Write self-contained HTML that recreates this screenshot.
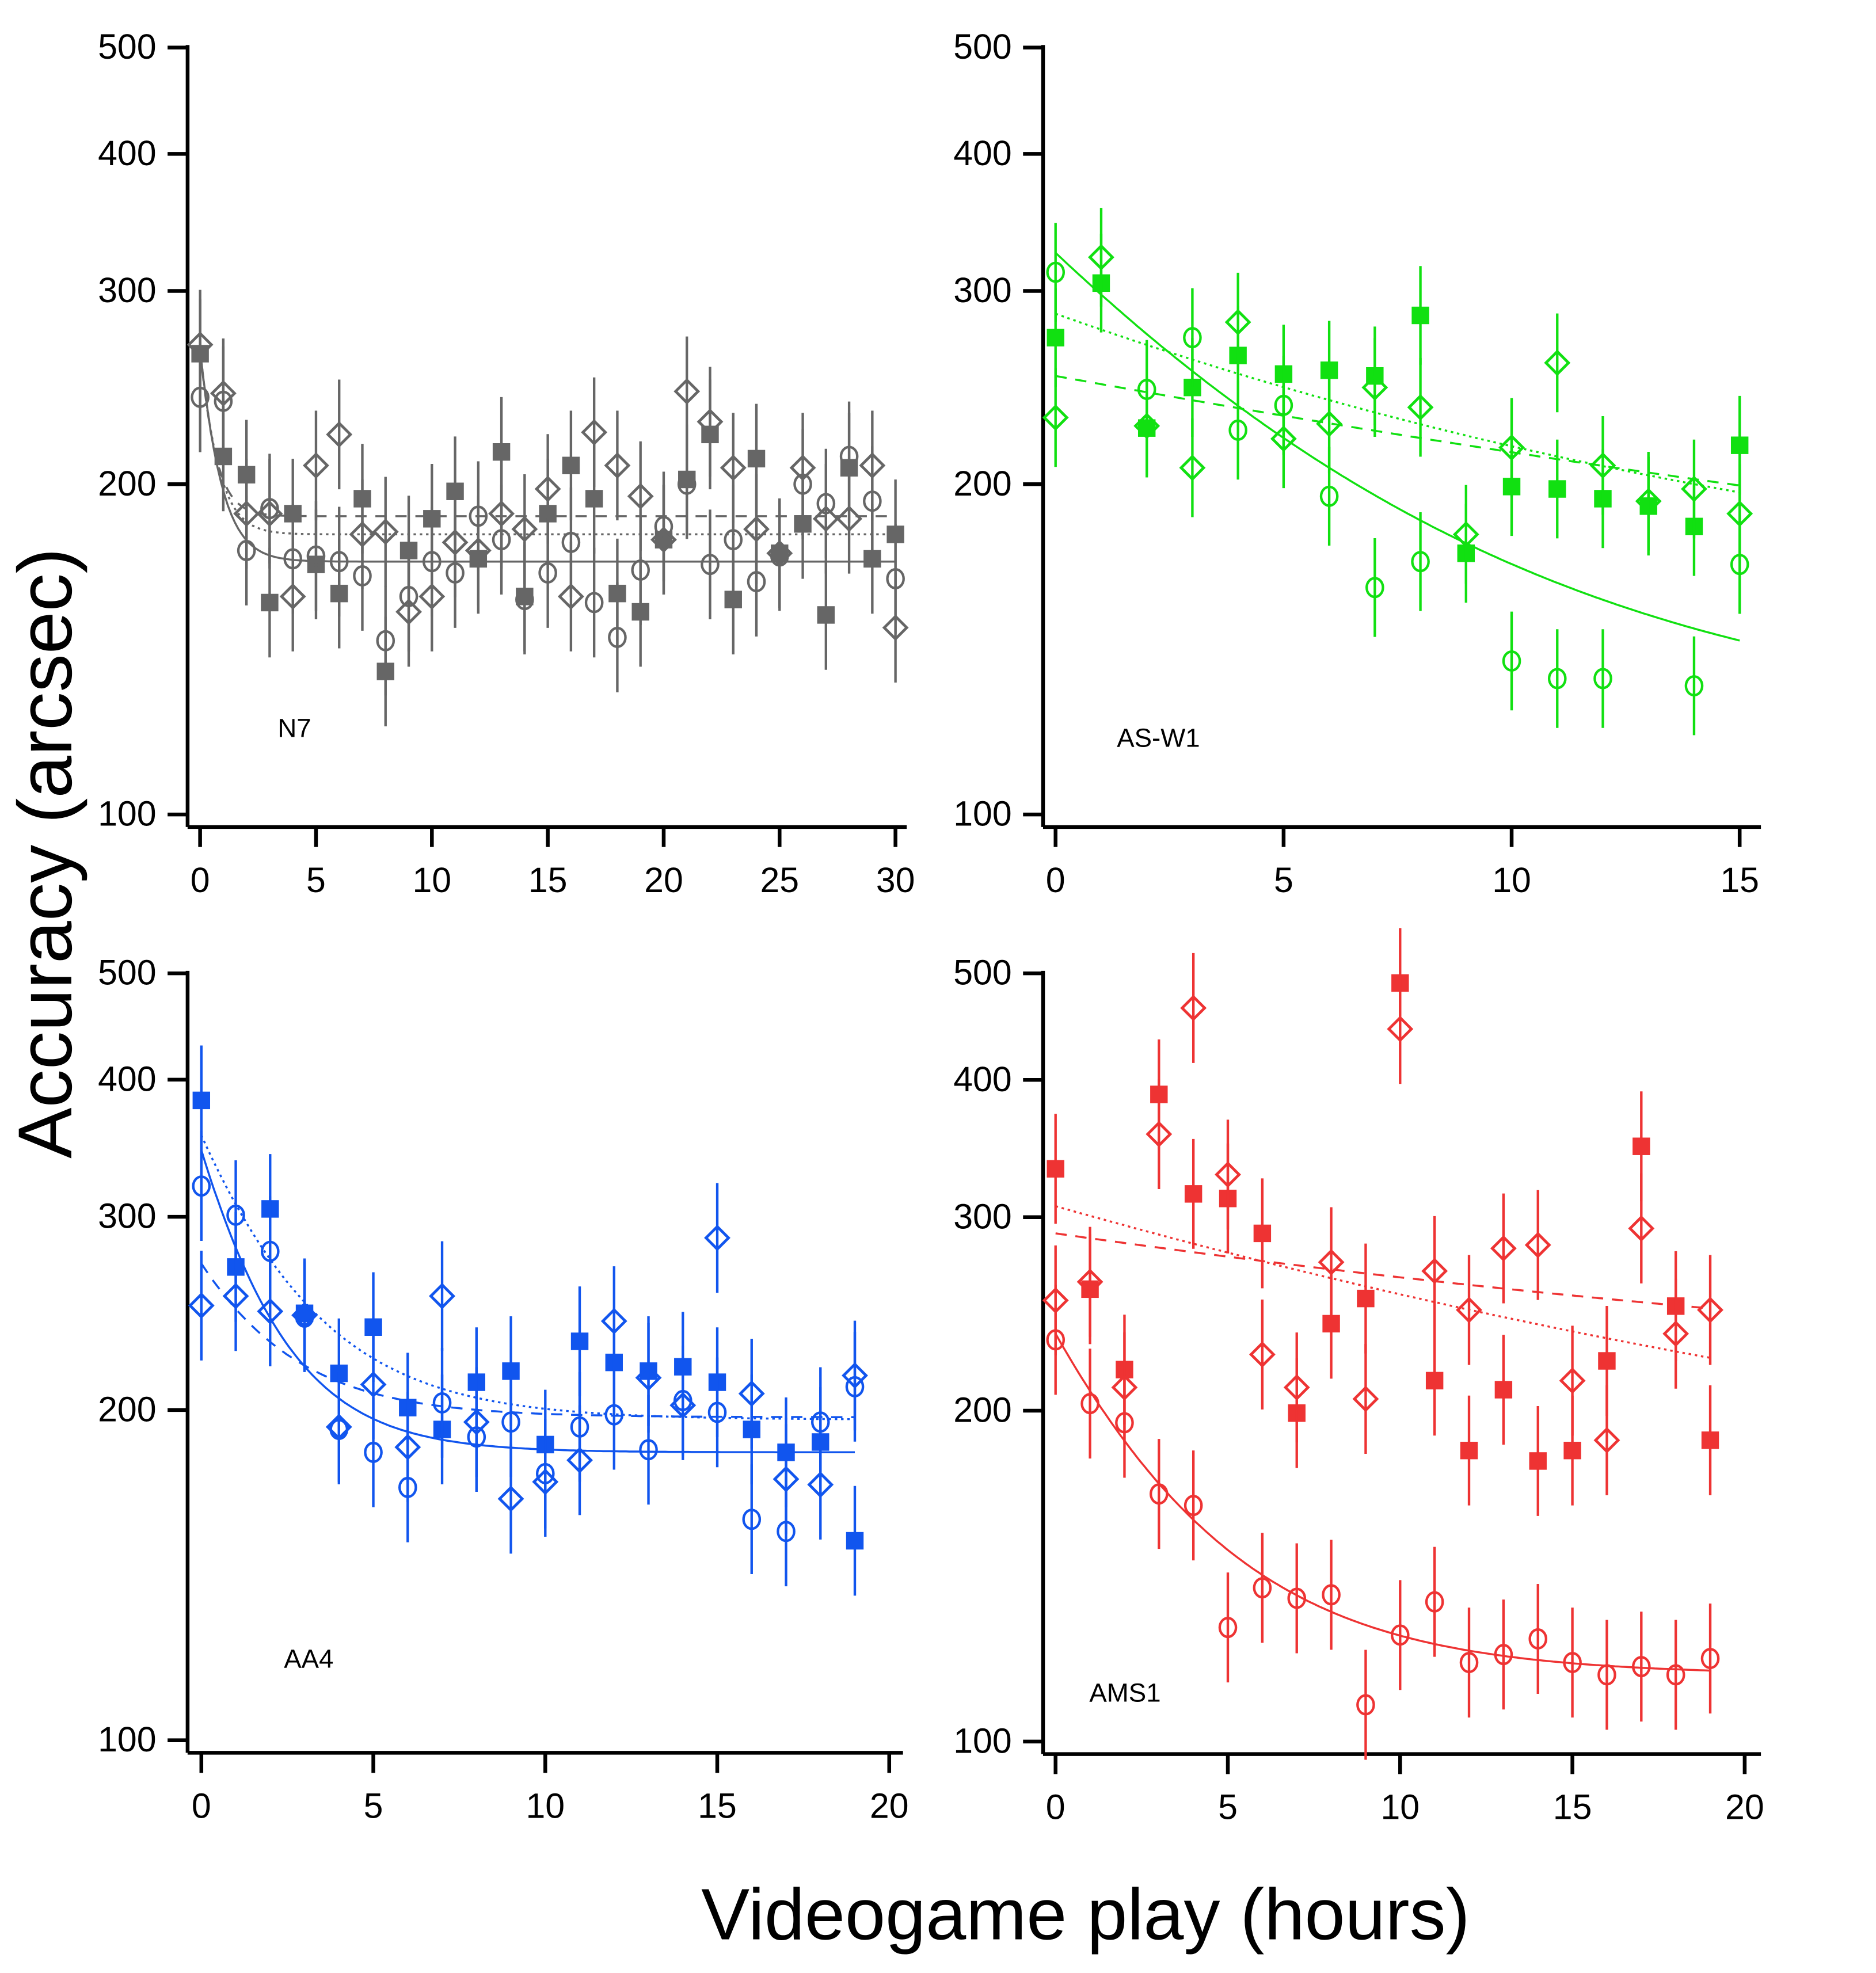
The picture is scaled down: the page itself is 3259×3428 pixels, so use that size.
<!DOCTYPE html>
<html><head><meta charset="utf-8"><style>html,body{margin:0;padding:0;background:#fff}svg{display:block}</style></head>
<body>
<svg id="chart" xmlns="http://www.w3.org/2000/svg" width="3259" height="3428" viewBox="0 0 1500 1577" preserveAspectRatio="none" font-family="'Liberation Sans', sans-serif">
<rect width="1500" height="1577" fill="#fff"/>
<text x="0" y="0" transform="translate(57,682) rotate(-90)" text-anchor="middle" font-size="61">Accuracy (arcsec)</text>
<text x="868" y="1550" text-anchor="middle" font-size="58">Videogame play (hours)</text>
</svg>
<script>
// N7
const n7Squares=[263,212,204,156,188,169,159,194,135,174,186,197,171,214,158,188,208,194,159,153,178,202,222,157,211,173,184,152,207,171,180];
const n7Circles=[240,238,174,190,171,172,170,165,144,158,170,166,187,178,157,166,177,156,145,167,183,200,169,178,163,172,200,192,212,193,164];
const n7Diamonds=[268,242,188,188,158,208,222,180,181,153,158,177,174,188,182,198,158,223,208,195,178,243,228,207,182,173,207,186,186,208,148];
// AS-W1
const asSquares=[272,305,225,245,262,252,254,251,285,173,199,198,194,191,183,217];
const asCircles=[312,null,244,272,224,236,195,161,170,null,138,133,133,null,131,169];
const asDiamonds=[230,322,226,207,281,220,227,245,235,180,216,258,208,193,198,188];
// AA4
const aaSquares=[383,270,305,245,216,238,201,192,212,217,186,231,221,217,219,212,192,183,187,152];
const aaCircles=[320,301,279,243,192,183,170,203,189,195,175,193,198,184,204,199,159,155,195,210];
const aaDiamonds=[249,254,246,244,193,211,185,254,195,166,172,180,241,214,202,287,207,173,171,215];
// AMS1
const amSquares=[332,258,218,388,315,312,290,199,240,253,490,213,184,209,180,184,222,348,249,188];
const amCircles=[232,203,195,168,164,127,138,135,136,108,125,134,118,120,124,118,115,117,115,119];
const amDiamonds=[252,262,210,357,465,328,225,210,273,205,445,268,247,281,283,213,188,293,235,247];
// fit params [asymptote, amplitude, tau]
const n7Fits=[[170,95,0.8],[180,85,0.7],[187,78,0.6]];
const asFits=[[120,205,7],[150,136,14],[120,131,30]];
const aaFits=[[183,162,2],[196,160,2.8],[197,75,2.5]];
const amFits=[[115,120,4],[150,157,25],[200,90,30]];
const yTicks=[100,200,300,400,500];

const NS='http://www.w3.org/2000/svg';
const svg=document.getElementById('chart');
function mk(tag,attrs,parent){const e=document.createElementNS(NS,tag);for(const k in attrs)e.setAttribute(k,attrs[k]);(parent||svg).appendChild(e);return e;}

const panels=[
 {name:'n7',label:'N7',color:'#666666',ax:150,ytop:38,ybot:651,xaxY:661,x0:160,x1:716,xmax:30,xend:725,xticks:[0,5,10,15,20,25,30],lx:222,ly:589,sq:n7Squares,ci:n7Circles,di:n7Diamonds,fits:n7Fits,fx:30,err:0.05},
 {name:'as-w1',label:'AS-W1',color:'#11e011',ax:834,ytop:38,ybot:651,xaxY:661,x0:844,x1:1391,xmax:15,xend:1408,xticks:[0,5,10,15],lx:893,ly:597,sq:asSquares,ci:asCircles,di:asDiamonds,fits:asFits,fx:15,err:0.045},
 {name:'aa4',label:'AA4',color:'#1155ee',ax:150,ytop:778,ybot:1391,xaxY:1401,x0:161,x1:711,xmax:20,xend:722,xticks:[0,5,10,15,20],lx:227,ly:1333,sq:aaSquares,ci:aaCircles,di:aaDiamonds,fits:aaFits,fx:19,err:0.05},
 {name:'ams1',label:'AMS1',color:'#ee3333',ax:834,ytop:778,ybot:1392,xaxY:1402,x0:844,x1:1395,xmax:20,xend:1408,xticks:[0,5,10,15,20],lx:871,ly:1360,sq:amSquares,ci:amCircles,di:amDiamonds,fits:amFits,fx:19,err:0.05}
];
panels.forEach(p=>{
 const g=mk('g',{});
 
 
 const Y=v=>p.ybot-(Math.log10(v)-2)/Math.log10(5)*(p.ybot-p.ytop);
 const X=x=>p.x0+x/p.xmax*(p.x1-p.x0);
 const ya=mk('line',{x1:p.ax,y1:p.ytop-2,x2:p.ax,y2:p.xaxY,stroke:'#000','stroke-width':3},g);
 
 const xa=mk('line',{x1:p.ax,y1:p.xaxY,x2:p.xend,y2:p.xaxY,stroke:'#000','stroke-width':3},g);
 
 yTicks.forEach(t=>{
  mk('line',{x1:p.ax-16,y1:Y(t),x2:p.ax,y2:Y(t),stroke:'#000','stroke-width':3},g);
  const tx=mk('text',{x:p.ax-25,y:Y(t)+9,'text-anchor':'end','font-size':28},g);tx.textContent=t;
  
 });
 p.xticks.forEach(t=>{
  mk('line',{x1:X(t),y1:p.xaxY,x2:X(t),y2:p.xaxY+16,stroke:'#000','stroke-width':3},g);
  const tx=mk('text',{x:X(t),y:p.xaxY+52,'text-anchor':'middle','font-size':28},g);tx.textContent=t;
  
 });
 const lb=mk('text',{x:p.lx,y:p.ly,'font-size':21},g);lb.textContent=p.label;
 
 const dashes=['none','2,3','9,7'];
 p.fits.forEach((f,i)=>{
  let d='';
  for(let k=0;k<=200;k++){const x=p.fx*k/200;const v=f[0]+f[1]*Math.exp(-x/f[2]);d+=(k?'L':'M')+X(x).toFixed(1)+','+Y(v).toFixed(1);}
  const pa=mk('path',{d:d,fill:'none',stroke:p.color,'stroke-width':1.6,'stroke-dasharray':dashes[i]},g);
  
 });
 const eb=(x,v)=>{mk('line',{x1:X(x),y1:Y(v*Math.pow(10,p.err)),x2:X(x),y2:Y(v/Math.pow(10,p.err)),stroke:p.color,'stroke-width':2},g);};
 p.sq.forEach((v,i)=>{if(v==null)return;eb(i,v);
  const r=mk('rect',{x:X(i)-7,y:Y(v)-7,width:14,height:14,fill:p.color},g);
  });
 p.ci.forEach((v,i)=>{if(v==null)return;eb(i,v);
  const c=mk('ellipse',{cx:X(i),cy:Y(v),rx:6.5,ry:7.5,fill:'none',stroke:p.color,'stroke-width':2},g);
  });
 p.di.forEach((v,i)=>{if(v==null)return;eb(i,v);
  const x=X(i),y=Y(v);
  const d=mk('polygon',{points:`${x},${y-9} ${x+9},${y} ${x},${y+9} ${x-9},${y}`,fill:'none',stroke:p.color,'stroke-width':2.2},g);
  });
});
</script>
</body></html>
